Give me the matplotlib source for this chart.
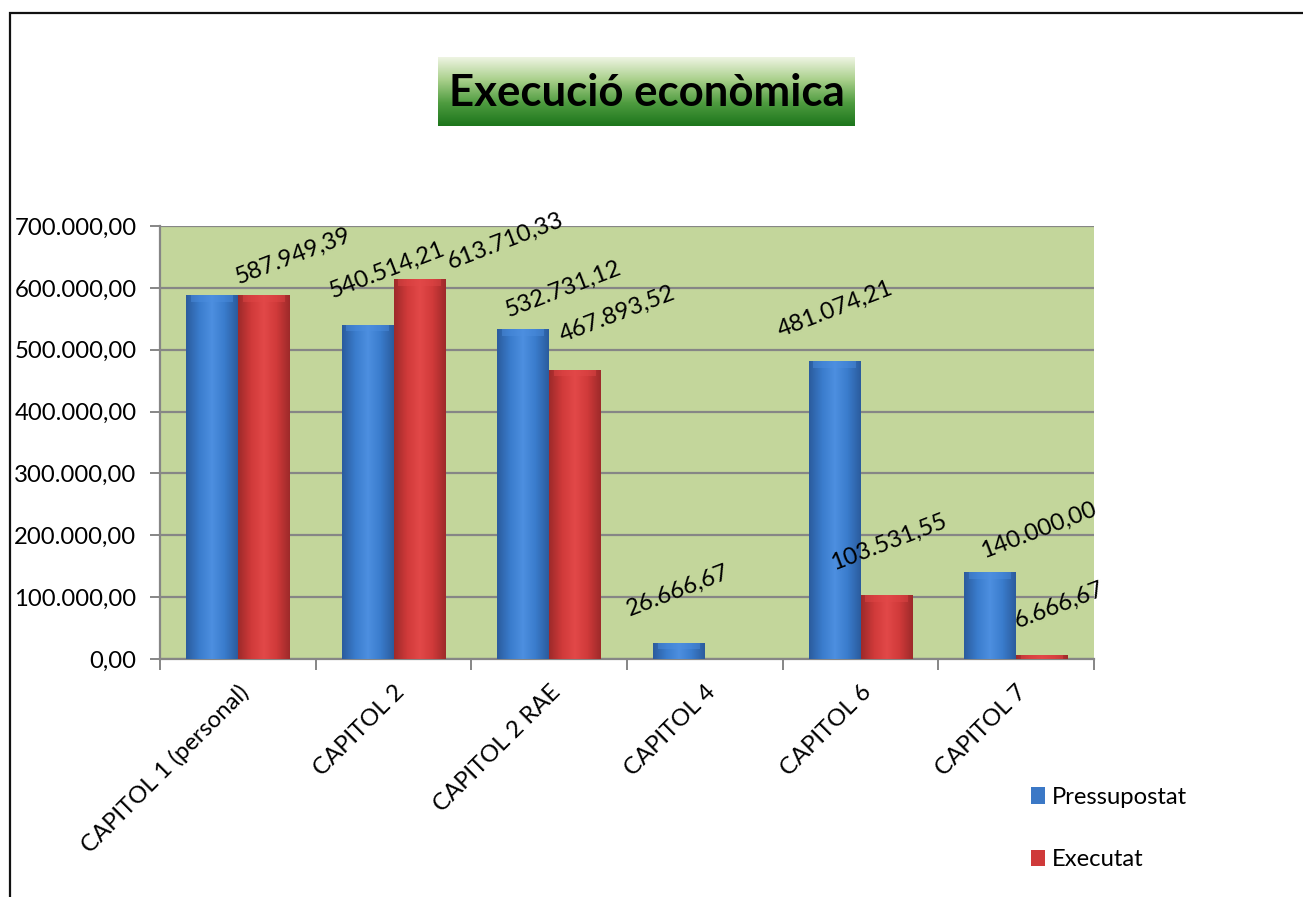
import numpy as np
import matplotlib.pyplot as plt
from matplotlib.patches import Rectangle
from matplotlib.colors import LinearSegmentedColormap

plt.rcParams['font.family'] = ['Lato', 'DejaVu Sans']

# data
categories = ['CAPITOL 1 (personal)', 'CAPITOL 2', 'CAPITOL 2 RAE',
              'CAPITOL 4', 'CAPITOL 6', 'CAPITOL 7']
pressupostat = [587949.39, 540514.21, 532731.12, 26666.67, 481074.21, 140000.00]
executat = [587949.39, 613710.33, 467893.52, 0.0, 103531.55, 6666.67]
yticks = [0, 100000, 200000, 300000, 400000, 500000, 600000, 700000]

# label offsets (pixels) from the top centre of each bar, as placed in the original
off_press = [None, (20, 55), (40, 40), (-1, 52), (1, 52), (48, 42)]
off_exec = [(29, 39), (86, 38), (42, 55), None, (2, 53), (17, 50)]


def fmt(v):
    s = f"{v:,.2f}"
    return s.replace(',', 'X').replace('.', ',').replace('X', '.')


W, H = 1303, 897
fs = 17.2
fig = plt.figure(figsize=(W / 100, H / 100), dpi=100)

# outer chart frame (runs off the right and bottom of the picture)
fig.patches.append(Rectangle((10 / W, -0.05), 1.1, 1 - 13 / H + 0.05,
                             transform=fig.transFigure, fill=False,
                             edgecolor='#111111', linewidth=1.6))

ax = fig.add_axes([160 / W, 1 - 659 / H, (1094 - 160) / W, (659 - 226) / H])
ax.set_facecolor('#c3d69b')

x = np.arange(len(categories))
bw = 1 / 3


def shaded(bars, dark, mid, light):
    cmap = LinearSegmentedColormap.from_list('g', [dark, mid, light, mid, dark])
    grad = np.linspace(0, 1, 64).reshape(1, -1)
    for b in bars:
        h = b.get_height()
        if h <= 0:
            continue
        x0 = b.get_x()
        im = ax.imshow(grad, cmap=cmap, aspect='auto', zorder=3,
                       extent=(x0, x0 + b.get_width(), 0, h))
        im.set_clip_path(b)
        # bevel on top
        ax.add_patch(Rectangle((x0 + 0.03, h - min(h, 11000)), b.get_width() - 0.06,
                               min(h, 11000), facecolor=light, alpha=0.45,
                               edgecolor='none', zorder=4))


b1 = ax.bar(x - bw / 2, pressupostat, bw, color='#3b78c6', zorder=2, label='Pressupostat')
b2 = ax.bar(x + bw / 2, executat, bw, color='#cf3a3a', zorder=2, label='Executat')
shaded(b1, '#2b5c9e', '#3a7ccc', '#4d8fe0')
shaded(b2, '#9e2a2a', '#d03a3a', '#e24848')

for bars, vals, offs in ((b1, pressupostat, off_press), (b2, executat, off_exec)):
    for b, v, o in zip(bars, vals, offs):
        if o is None:
            continue
        ax.annotate(fmt(v), (b.get_x() + b.get_width() / 2, v),
                    xytext=o, textcoords='offset pixels', ha='center', va='center',
                    rotation=21, fontsize=fs, color='black', zorder=6,
                    annotation_clip=False)

ax.set_xlim(-0.5, len(categories) - 0.5)
ax.set_ylim(0, 700000)
ax.set_yticks(yticks)
ax.set_yticklabels([fmt(v) for v in yticks], fontsize=fs)
ax.yaxis.grid(True, color='#868686', linewidth=1.6, zorder=1)
ax.set_axisbelow(True)

ax.set_xticks(np.arange(-0.5, len(categories), 1.0))
ax.set_xticklabels([])
ax.set_xticks(x, minor=True)
ax.set_xticklabels(categories, minor=True, rotation=45, ha='right',
                   rotation_mode='anchor', fontsize=fs)
ax.tick_params(axis='x', which='minor', length=0, pad=16)
ax.tick_params(axis='x', which='major', length=8, width=1.4, color='#868686')
ax.tick_params(axis='y', length=7, width=1.4, color='#868686', pad=10)

for s in ('top', 'right'):
    ax.spines[s].set_visible(False)
for s in ('left', 'bottom'):
    ax.spines[s].set_color('#868686')
    ax.spines[s].set_linewidth(1.6)

# title box with green gradient
tax = fig.add_axes([438 / W, 1 - 126 / H, (855 - 438) / W, 69 / H])
tcmap = LinearSegmentedColormap.from_list('t', ['#eef4e2', '#a8cf8a', '#4f9c40', '#1d761c'])
tax.imshow(np.linspace(0, 1, 100).reshape(-1, 1), cmap=tcmap, aspect='auto',
           extent=(0, 1, 0, 1))
tax.set_xlim(0, 1)
tax.set_ylim(0, 1)
tax.axis('off')
tax.text(0.5, 0.48, 'Execució econòmica', ha='center', va='center',
         fontsize=31.5, fontweight='bold', color='black')

leg = fig.legend(handles=[b1, b2], loc='upper left',
                 bbox_to_anchor=(1009 / W, 1 - 765 / H), frameon=False,
                 fontsize=fs, handlelength=0.6, handleheight=0.7,
                 handletextpad=0.3, labelspacing=1.75)

fig.savefig('out.png', dpi=100)
